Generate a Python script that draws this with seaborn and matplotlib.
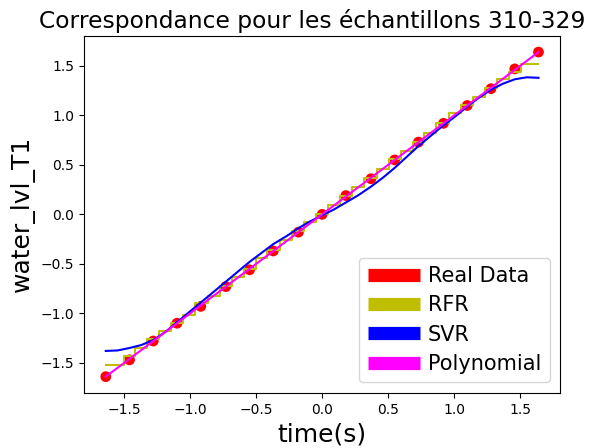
import numpy as np
import pandas as pd
import matplotlib
matplotlib.use('Agg')
import matplotlib.pyplot as plt
import seaborn as sns
from matplotlib.lines import Line2D

# standardized time of samples 310-329 and the measured level
time_s = [-1.64, -1.46, -1.28, -1.10, -0.92, -0.73, -0.55, -0.37, -0.18, 0.00,
          0.18, 0.37, 0.55, 0.73, 0.92, 1.10, 1.28, 1.46, 1.64]
real_lvl = [-1.64, -1.47, -1.28, -1.10, -0.93, -0.73, -0.56, -0.37, -0.18, 0.00,
            0.19, 0.36, 0.55, 0.73, 0.92, 1.10, 1.27, 1.47, 1.64]
poly_lvl = [-1.64, -1.46, -1.28, -1.10, -0.92, -0.73, -0.55, -0.37, -0.18, 0.00,
            0.18, 0.37, 0.55, 0.73, 0.92, 1.10, 1.28, 1.46, 1.64]

# predictions on a finer grid
grid = [-1.64, -1.55, -1.46, -1.37, -1.28, -1.19, -1.10, -1.01, -0.91, -0.82,
        -0.73, -0.64, -0.55, -0.46, -0.37, -0.27, -0.18, -0.09, 0.00, 0.09,
        0.18, 0.27, 0.37, 0.46, 0.55, 0.64, 0.73, 0.82, 0.91, 1.01,
        1.10, 1.19, 1.28, 1.37, 1.46, 1.55, 1.64]
rfr_lvl = [-1.52, -1.52, -1.43, -1.35, -1.26, -1.18, -1.10, -1.02, -0.90, -0.82,
           -0.72, -0.63, -0.55, -0.44, -0.36, -0.26, -0.17, -0.08, 0.00, 0.09,
           0.19, 0.28, 0.37, 0.46, 0.56, 0.64, 0.73, 0.82, 0.92, 1.02,
           1.11, 1.19, 1.28, 1.37, 1.44, 1.52, 1.52]
svr_lvl = [-1.38, -1.375, -1.35, -1.32, -1.27, -1.19, -1.09, -0.99, -0.88, -0.78,
           -0.68, -0.58, -0.48, -0.39, -0.30, -0.22, -0.14, -0.07, -0.01, 0.05,
           0.12, 0.19, 0.28, 0.37, 0.47, 0.58, 0.69, 0.79, 0.89, 0.99,
           1.09, 1.18, 1.26, 1.32, 1.365, 1.385, 1.38]

df_real = pd.DataFrame({'t': time_s, 'lvl': real_lvl, 'poly': poly_lvl})
df_grid = pd.DataFrame({'t': grid, 'rfr': rfr_lvl, 'svr': svr_lvl})

fig, ax = plt.subplots(figsize=(6.01, 4.48), dpi=100)
fig.subplots_adjust(left=0.140, right=0.932, top=0.920, bottom=0.123)

sns.scatterplot(data=df_real, x='t', y='lvl', color='red', s=60,
                edgecolor='none', ax=ax, zorder=2)
sns.lineplot(data=df_grid, x='t', y='rfr', color='y', lw=1.5,
             drawstyle='steps-mid', ax=ax, zorder=3)
sns.lineplot(data=df_grid, x='t', y='svr', color='b', lw=1.5, ax=ax, zorder=4)
sns.lineplot(data=df_real, x='t', y='poly', color='magenta', lw=1.5, ax=ax, zorder=5)

ax.set_title('Correspondance pour les échantillons 310-329', fontsize=16.8, x=0.479)
ax.set_xlabel('time(s)', fontsize=18)
ax.set_ylabel('water_lvl_T1', fontsize=18)
ax.set_xticks([-1.5, -1.0, -0.5, 0.0, 0.5, 1.0, 1.5])
ax.set_yticks([-1.5, -1.0, -0.5, 0.0, 0.5, 1.0, 1.5])

handles = [Line2D([], [], color=c, lw=9.5, solid_capstyle='butt')
           for c in ['red', 'y', 'b', 'magenta']]
ax.legend(handles, ['Real Data', 'RFR', 'SVR', 'Polynomial'], loc='lower right',
          fontsize=15, handlelength=2.5, handletextpad=0.4, labelspacing=0.45)

fig.savefig('out.png', dpi=100)
